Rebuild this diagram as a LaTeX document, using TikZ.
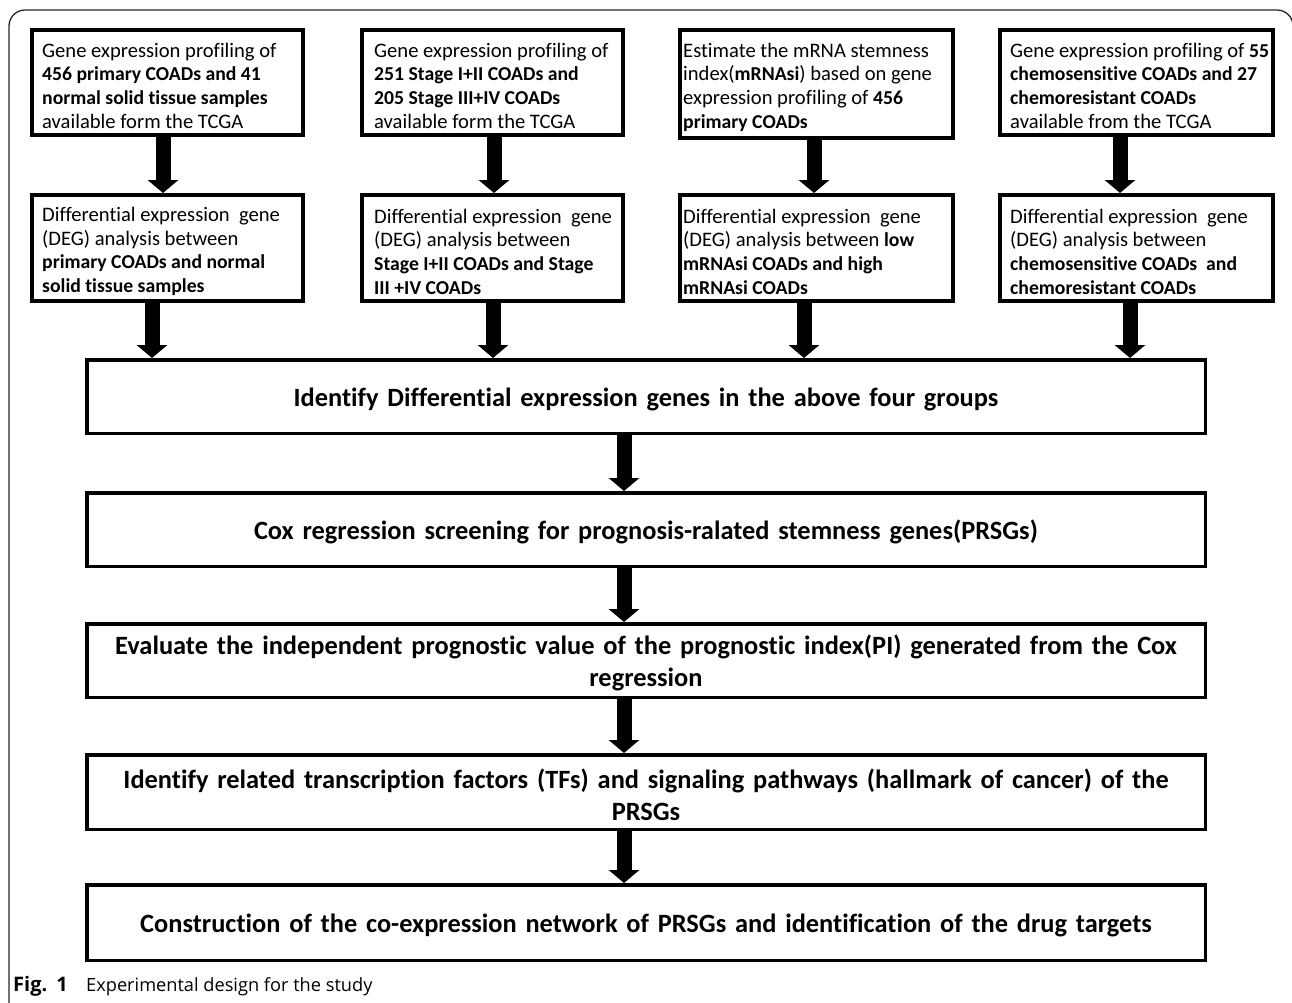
\documentclass[tikz,border=0pt]{standalone}
\usepackage{fontspec}
\setmainfont{Carlito}[Ligatures={NoCommon,NoContextual}]
\newfontfamily\capfont{Open Sans}
\usetikzlibrary{arrows.meta}
\newcommand\bt[1]{{\fontsize{19.7}{23.7}\selectfont\bfseries #1}}
\begin{document}
\begin{tikzpicture}[x=1pt,y=-1pt,
  rowbox/.style={draw, line width=4pt, rectangle, inner sep=0pt},
  rowtext/.style={anchor=west, align=left, inner sep=0pt,
    font=\fontsize{20.6}{23.7}\selectfont},
  bigbox/.style={draw, line width=3.5pt, rectangle, minimum width=1118.5pt,
    inner sep=0pt},
  bigtext/.style={text width=1100pt, inner sep=0pt, align=center,
    font=\bfseries\fontsize{26.4}{31.7}\selectfont},
  bigarrow/.style={line width=15pt, -{Triangle[width=30pt,length=13pt]}},
  frame/.style={line width=1.3pt, rounded corners=16pt, black!85}
]
\useasboundingbox (0,0) rectangle (1292,1002);
\begin{scope}
  \clip (0,0) rectangle (1292,1002);
  \draw[frame] (9,1040) -- (9,10) -- (1293,10) -- (1293,1040);
\end{scope}

% top row boxes
\node[rowbox, minimum width=271pt, minimum height=105pt] (r1c1) at (167.5,82.5) {};
\node[rowbox, minimum width=261pt, minimum height=105pt] (r1c2) at (492.5,82.5) {};
\node[rowbox, minimum width=273pt, minimum height=108pt] (r1c3) at (816.5,84) {};
\node[rowbox, minimum width=273pt, minimum height=105pt] (r1c4) at (1136.5,82.5) {};
% second row boxes
\node[rowbox, minimum width=271pt, minimum height=106pt] (r2c1) at (167.5,248) {};
\node[rowbox, minimum width=261pt, minimum height=106pt] (r2c2) at (492.5,248) {};
\node[rowbox, minimum width=273pt, minimum height=106pt] (r2c3) at (816.5,248) {};
\node[rowbox, minimum width=273pt, minimum height=106pt] (r2c4) at (1136.5,248) {};

% texts of the top row
\node[rowtext] (t1c1) at ([xshift=12pt,yshift=-3pt]r1c1.west)
  {Gene expression profiling of\\ \bt{456 primary COADs and 41}\\ \bt{normal solid tissue samples}\\ available form the TCGA};
\node[rowtext] (t1c2) at ([xshift=14pt,yshift=-3pt]r1c2.west)
  {Gene expression profiling of\\ \bt{251 Stage I+II COADs and}\\ \bt{205 Stage III+IV COADs}\\ available form the TCGA};
\node[rowtext] (t1c3) at ([xshift=5pt,yshift=-3pt]r1c3.west)
  {Estimate the mRNA stemness\\ index(\bt{mRNAsi}) based on gene\\ expression profiling of \bt{456}\\ \bt{primary COADs}};
\node[rowtext] (t1c4) at ([xshift=12pt,yshift=-3pt]r1c4.west)
  {Gene expression profiling of \bt{55}\\ \bt{chemosensitive COADs and 27}\\ \bt{chemoresistant COADs}\\ available from the TCGA};

% texts of the second row
\node[rowtext] (t2c1) at ([xshift=12pt,yshift=-3.5pt]r2c1.west)
  {Differential expression\ \ gene\\ (DEG) analysis between\\ \bt{primary COADs and normal}\\ \bt{solid tissue samples}};
\node[rowtext] (t2c2) at ([xshift=14pt,yshift=-3.5pt]r2c2.west)
  {Differential expression\ \ gene\\ (DEG) analysis between\\ \bt{Stage I+II COADs and Stage}\\ \bt{III +IV COADs}};
\node[rowtext] (t2c3) at ([xshift=5pt,yshift=-3.5pt]r2c3.west)
  {Differential expression\ \ gene\\ (DEG) analysis between \bt{low}\\ \bt{mRNAsi COADs and high}\\ \bt{mRNAsi COADs}};
\node[rowtext] (t2c4) at ([xshift=12pt,yshift=-3.5pt]r2c4.west)
  {Differential expression\ \ gene\\ (DEG) analysis between\\ \bt{chemosensitive COADs\ \ and}\\ \bt{chemoresistant COADs}};

% big boxes
\node[bigbox, minimum height=73.5pt] (b1) at (646,396.5) {};
\node[bigbox, minimum height=73.5pt] (b2) at (646,529.5) {};
\node[bigbox, minimum height=73.5pt] (b3) at (646,660.5) {};
\node[bigbox, minimum height=74.5pt] (b4) at (646,792) {};
\node[bigbox, minimum height=75.5pt] (b5) at (646,922.5) {};

\node[bigtext] (bt1) at ([yshift=-2.5pt]b1.center)
  {Identify Differential expression genes in the above four groups};
\node[bigtext] (bt2) at ([yshift=-2.5pt]b2.center)
  {Cox regression screening for prognosis-ralated stemness genes(PRSGs)};
\node[bigtext] (bt3) at ([yshift=-2.5pt]b3.center)
  {Evaluate the independent prognostic value of the prognostic index(PI) generated from the Cox\\ regression};
\node[bigtext] (bt4) at ([yshift=-2.5pt]b4.center)
  {Identify related transcription factors (TFs) and signaling pathways (hallmark of cancer) of the\\ PRSGs};
\node[bigtext] (bt5) at ([yshift=-2.5pt]b5.center)
  {Construction of the co-expression network of PRSGs and identification of the drug targets};

% caption
\node[anchor=base west, inner sep=0pt, font=\capfont\bfseries\fontsize{20}{22}\selectfont] (fig) at (13,991)
  {Fig.\hspace{9pt}1};
\node[anchor=base west, inner sep=0pt, font=\capfont\fontsize{18.2}{21}\selectfont] (cap) at (86,991)
  {Experimental design for the study};

% arrow columns
\coordinate (ta1) at (163,0);
\coordinate (ta2) at (494,0);
\coordinate (ta3) at (814,0);
\coordinate (ta4) at (1120,0);
\coordinate (ba1) at (152,0);
\coordinate (ba2) at (493,0);
\coordinate (ba3) at (804,0);
\coordinate (ba4) at (1130,0);
\coordinate (ca) at (624,0);

\draw[bigarrow] (r1c1.south -| ta1) -- (r2c1.north -| ta1);
\draw[bigarrow] (r1c2.south -| ta2) -- (r2c2.north -| ta2);
\draw[bigarrow] (r1c3.south -| ta3) -- (r2c3.north -| ta3);
\draw[bigarrow] (r1c4.south -| ta4) -- (r2c4.north -| ta4);
\draw[bigarrow] (r2c1.south -| ba1) -- (b1.north -| ba1);
\draw[bigarrow] (r2c2.south -| ba2) -- (b1.north -| ba2);
\draw[bigarrow] (r2c3.south -| ba3) -- (b1.north -| ba3);
\draw[bigarrow] (r2c4.south -| ba4) -- (b1.north -| ba4);
\draw[bigarrow] (b1.south -| ca) -- (b2.north -| ca);
\draw[bigarrow] (b2.south -| ca) -- (b3.north -| ca);
\draw[bigarrow] (b3.south -| ca) -- (b4.north -| ca);
\draw[bigarrow] (b4.south -| ca) -- (b5.north -| ca);
\end{tikzpicture}
\end{document}
